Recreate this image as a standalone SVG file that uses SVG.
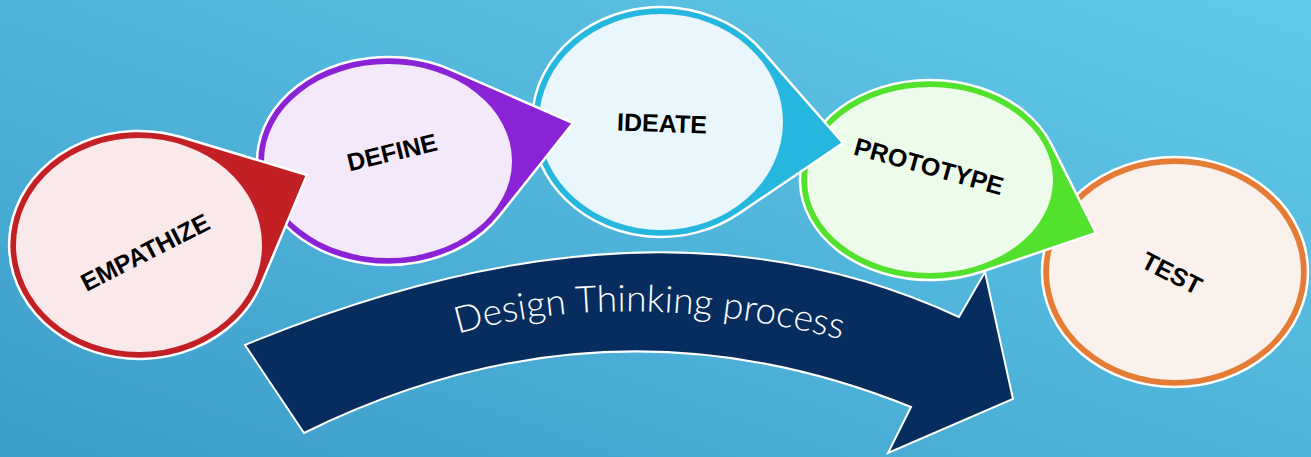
<svg xmlns="http://www.w3.org/2000/svg" width="1311" height="457" viewBox="0 0 1311 457">
<defs>
<linearGradient id="bg" x1="0" y1="1" x2="1" y2="0">
<stop offset="0" stop-color="#3c9dca"/>
<stop offset="1" stop-color="#62cbe9"/>
</linearGradient>
<path id="arc" d="M 458 334 Q 628 285 852 342"/>
<style>
.outer{stroke:#ffffff;stroke-width:2.5;stroke-linejoin:miter}
.lbl{font-family:"Liberation Sans",Arial,sans-serif;font-weight:bold;font-size:25px;fill:#000;text-anchor:middle;dominant-baseline:central}
.arrowtxt{font-family:Lato,"Open Sans","Liberation Sans",sans-serif;font-weight:300;font-size:37px;fill:#ffffff}
</style>
</defs>
<rect width="1311" height="457" fill="url(#bg)"/>
<g id="connectors">
<path d="M 245 345 Q 654 175 959 317 L 985 272 L 1013 399 L 888 453 L 911 407 Q 606 284 304 433 Z" fill="#062d5e" stroke="#ffffff" stroke-width="2"/>
<text class="arrowtxt"><textPath href="#arc" textLength="388" lengthAdjust="spacingAndGlyphs">Design Thinking process</textPath></text>
</g>
<g id="test">
<ellipse class="outer" cx="1175" cy="272" rx="133" ry="115" fill="#e57c35"/>
<ellipse cx="1175" cy="272" rx="126" ry="108" fill="#fbf1ec"/>
<text class="lbl" transform="translate(1172,273) rotate(27)">TEST</text>
</g>
<g id="prototype">
<path class="outer" d="M 1096 233 L 1051.2 143.9 A 130 100 0 1 0 982.5 271.5 Z" fill="#52e22e"/>
<ellipse cx="930" cy="180" rx="123" ry="93" fill="#edfbea"/>
<text class="lbl" transform="translate(929,166) rotate(15.5)">PROTOTYPE</text>
</g>
<g id="ideate">
<path class="outer" d="M 843 143 L 762.8 51.4 A 129 115 0 1 0 739.2 213.4 Z" fill="#25b7de"/>
<ellipse cx="661" cy="122" rx="122" ry="108" fill="#e9f6fb"/>
<text class="lbl" transform="translate(662,123) rotate(2)">IDEATE</text>
</g>
<g id="define">
<path class="outer" d="M 573 123 L 451.1 69.8 A 131 104 0 1 0 498.9 216.4 Z" fill="#8a23d6"/>
<ellipse cx="388" cy="161" rx="124" ry="97" fill="#f3e9fa"/>
<text class="lbl" transform="translate(392,152) rotate(-13.6)">DEFINE</text>
</g>
<g id="empathize">
<path class="outer" d="M 307 175 L 181 137 A 130 114 0 1 0 261 284.6 Z" fill="#c32026"/>
<ellipse cx="139" cy="245" rx="123" ry="107" fill="#f9e9ea"/>
<text class="lbl" transform="translate(145,252) rotate(-27)">EMPATHIZE</text>
</g>
</svg>
